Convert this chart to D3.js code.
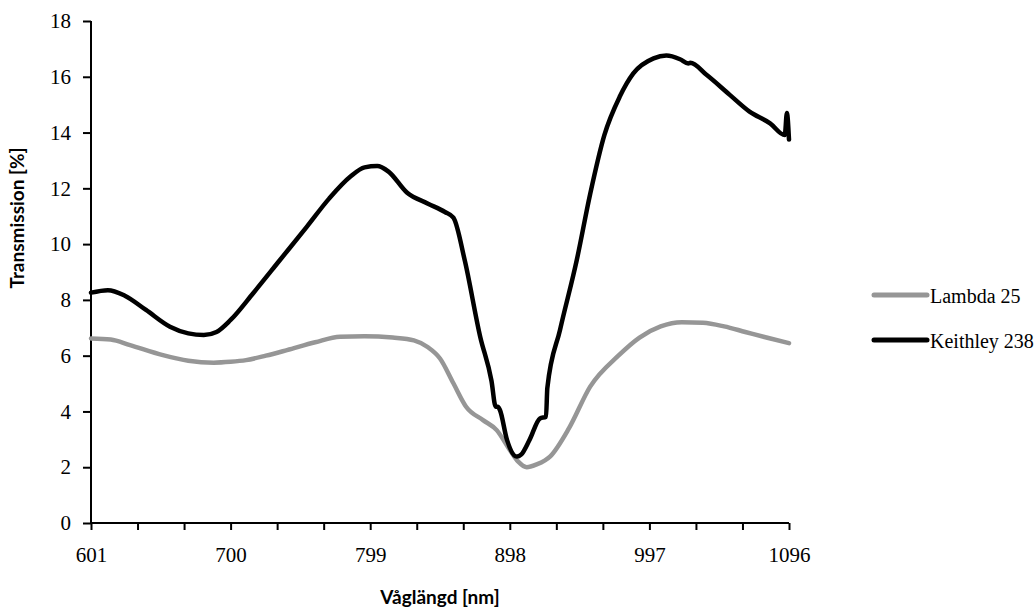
<!DOCTYPE html>
<html><head><meta charset="utf-8">
<script src="https://cdn.jsdelivr.net/npm/d3@7"></script>
<style>body{margin:0;background:#fff}svg{display:block}</style>
</head><body>
<svg id="c" width="1036" height="612"></svg>
<script>
// Data (wavelength nm, transmission %)
const keithleyNm = [601,613,625,640,657,670,681,690,700,716,735,754,770,785,795,804,812,825,840,852,858,866,877,885,888,889.5,891,896,903,906,912,919.4,923.7,924.6,933.6,945.5,955,965,976,985.6,1000,1009,1018.7,1024.6,1026,1037.7,1054,1068,1082.6,1093,1094.5,1096];
const keithleyVal = [8.26,8.35,8.15,7.64,7.04,6.8,6.74,6.85,7.28,8.24,9.43,10.62,11.64,12.42,12.75,12.8,12.6,11.85,11.45,11.15,10.95,9.43,6.68,5.1,4.17,4.17,4.05,2.98,2.38,2.45,2.98,3.75,3.81,4.83,6.92,9.43,11.8,13.9,15.29,16.12,16.66,16.76,16.63,16.48,16.5,16.06,15.35,14.75,14.33,13.91,14.7,13.75];
const lambdaNm = [601,615,628.7,652,670,688,700,711,725,740,760,777.6,795,815,830,840,848.5,858,867,879,888.7,898,904,910,917,926.5,940,955,975,990,1005,1020,1035,1050,1065,1080,1096];
const lambdaVal = [6.62,6.58,6.38,6.02,5.82,5.75,5.78,5.84,6.0,6.2,6.48,6.68,6.7,6.65,6.55,6.3,5.9,5.01,4.17,3.69,3.33,2.62,2.2,2.0,2.1,2.38,3.4,4.89,6.0,6.65,7.05,7.2,7.18,7.05,6.85,6.65,6.45];
const xTickValues = [601,634,667,700,733,766,799,832,865,898,931,964,997,1030,1063,1096];
const xTickLabels = [601,700,799,898,997,1096];
const yTickValues = [0,2,4,6,8,10,12,14,16,18];
const seriesNames = ["Lambda 25","Keithley 238"];
const seriesColors = ["#969696","#000000"];

const svg = d3.select("#c");
const L=91, R=789, T=21, B=523;
const x = d3.scaleLinear().domain([601,1096]).range([L,R]);
const y = d3.scaleLinear().domain([0,18]).range([B,T]);
const serif = "'Liberation Serif', 'Times New Roman', serif";
const sans = "Lato, 'Open Sans', sans-serif";

// Y axis
const ya = svg.append("g").attr("transform",`translate(${L},0)`)
  .call(d3.axisLeft(y).tickValues(yTickValues).tickSize(8).tickPadding(12).tickFormat(d3.format("d")));
// X axis
const xa = svg.append("g").attr("transform",`translate(0,${B})`)
  .call(d3.axisBottom(x).tickValues(xTickValues).tickSize(7).tickPadding(17)
    .tickFormat(d => xTickLabels.includes(d) ? d : ""));
[ya,xa].forEach(g=>{
  g.select(".domain").attr("stroke","#000").attr("stroke-width",2);
  g.selectAll(".tick line").attr("stroke","#000").attr("stroke-width",2);
  g.selectAll(".tick text").attr("fill","#000").style("font-family",serif).style("font-size","21px");
});
xa.select(".domain").attr("d",`M${L},0H${R}`);
ya.select(".domain").attr("d",`M0,${B}V${T}`);

const line = d3.line().x(d=>x(d[0])).y(d=>y(d[1])).curve(d3.curveMonotoneX);
const lam = lambdaNm.map((n,i)=>[n,lambdaVal[i]]);
const kei = keithleyNm.map((n,i)=>[n,keithleyVal[i]]);
svg.append("path").attr("d",line(lam)).attr("fill","none").attr("stroke",seriesColors[0]).attr("stroke-width",4.5).attr("stroke-linejoin","round").attr("stroke-linecap","round");
svg.append("path").attr("d",line(kei)).attr("fill","none").attr("stroke",seriesColors[1]).attr("stroke-width",4.5).attr("stroke-linejoin","round").attr("stroke-linecap","round");

// Axis titles
svg.append("text").attr("x",440).attr("y",604).attr("text-anchor","middle")
  .style("font-family",sans).style("font-weight","bold").style("font-size","19px").text("Våglängd [nm]");
svg.append("text").attr("transform","translate(24,218) rotate(-90)").attr("text-anchor","middle")
  .style("font-family",sans).style("font-weight","bold").style("font-size","19px").text("Transmission [%]");

// Legend
const leg = svg.append("g");
[295,340].forEach((ly,i)=>{
  leg.append("line").attr("x1",874).attr("x2",927).attr("y1",ly).attr("y2",ly)
    .attr("stroke",seriesColors[i]).attr("stroke-width",5).attr("stroke-linecap","round");
  leg.append("text").attr("x",930).attr("y",ly+8).style("font-family",serif).style("font-size","20px").attr("fill","#000").text(seriesNames[i]);
});
</script>
</body></html>
